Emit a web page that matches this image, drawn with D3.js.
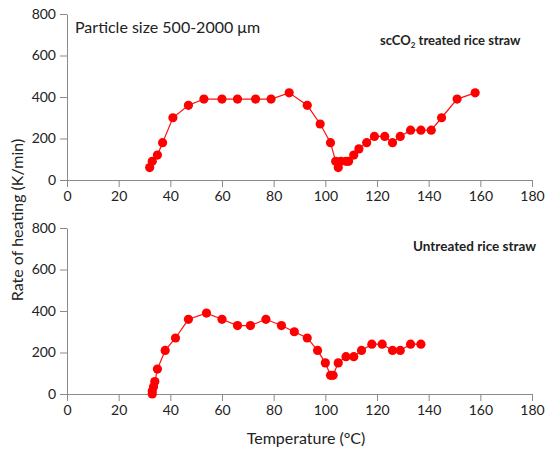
<!doctype html>
<html lang="en">
<head>
    <meta charset="UTF-8">
    <title>Rate of heating</title>
    <style>
        body { margin: 0; background: #fff; }
        svg text { font-family: Lato, "Open Sans", sans-serif; fill: #222; }
    </style>
</head>
<body>

<div class="canvas">
    <svg width="550" height="462"></svg>
</div>

<script src="https://d3js.org/d3.v7.min.js"></script>
<script>
    // scCO2 treated rice straw
    const treatedTemp = [32, 33, 35, 37, 41, 47, 53, 60, 66, 73, 79, 86, 93, 98, 102, 104, 105, 106, 108, 109, 111, 113, 116, 119, 123, 126, 129, 133, 137, 141, 145, 151, 158];
    const treatedRate = [60, 90, 120, 180, 300, 360, 390, 390, 390, 390, 390, 420, 360, 270, 180, 90, 60, 90, 90, 90, 120, 150, 180, 210, 210, 180, 210, 240, 240, 240, 300, 390, 420];

    // untreated rice straw
    const untreatedTemp = [33, 33, 33.5, 34, 35, 38, 42, 47, 54, 60, 66, 71, 77, 83, 88, 93, 97, 100, 102, 103, 105, 108, 111, 114, 118, 122, 126, 129, 133, 137];
    const untreatedRate = [0, 15, 35, 60, 120, 210, 270, 360, 390, 360, 330, 330, 360, 330, 300, 270, 210, 150, 90, 90, 150, 180, 180, 210, 240, 240, 210, 210, 240, 240];

    const xTicks = [0, 20, 40, 60, 80, 100, 120, 140, 160, 180];
    const yTicks = [0, 200, 400, 600, 800];

    const svg = d3.select('.canvas svg');
    const left = 67, right = 532;

    const x = d3.scaleLinear().domain([0, 180]).range([left, right]);

    const panels = [
        { top: 14, bottom: 180, temp: treatedTemp, rate: treatedRate },
        { top: 228, bottom: 394, temp: untreatedTemp, rate: untreatedRate }
    ];

    const grey = '#8a8a8a';

    panels.forEach(p => {
        const y = d3.scaleLinear().domain([0, 800]).range([p.bottom, p.top]);
        const g = svg.append('g');

        // x axis
        const xa = g.append('g').attr('transform', `translate(0,${p.bottom})`);
        xa.call(d3.axisBottom(x).tickValues(d3.range(10, 180, 20)).tickSize(4).tickFormat(''));
        xa.call(d3.axisBottom(x).tickValues(xTicks).tickSize(7).tickSizeOuter(0).tickPadding(4));
        xa.selectAll('path, line').attr('stroke', grey);
        xa.selectAll('text').style('font-size', '14px').attr('fill', '#222');

        // y axis
        const ya = g.append('g').attr('transform', `translate(${left},0)`);
        ya.call(d3.axisLeft(y).tickValues(d3.range(100, 800, 200)).tickSize(4).tickFormat(''));
        ya.call(d3.axisLeft(y).tickValues(yTicks).tickSize(7).tickSizeOuter(0).tickPadding(4));
        ya.selectAll('path, line').attr('stroke', grey);
        ya.selectAll('text').style('font-size', '14px').attr('fill', '#222');

        const pts = p.temp.map((t, i) => [t, p.rate[i]]);

        g.append('path')
            .datum(pts)
            .attr('fill', 'none')
            .attr('stroke', '#ff1010')
            .attr('stroke-width', 1.2)
            .attr('d', d3.line().x(d => x(d[0])).y(d => y(d[1])));

        g.selectAll('circle')
            .data(pts)
            .enter()
            .append('circle')
            .attr('cx', d => x(d[0]))
            .attr('cy', d => y(d[1]))
            .attr('r', 4.6)
            .attr('fill', '#ff0000');
    });

    // annotations
    svg.append('text')
        .attr('x', 75).attr('y', 33)
        .style('font-size', '16px')
        .text('Particle size 500-2000 μm');

    const t1 = svg.append('text')
        .attr('x', 380).attr('y', 45)
        .style('font-size', '13px')
        .style('font-weight', 'bold');
    t1.append('tspan').text('scCO');
    t1.append('tspan').attr('dy', 3).style('font-size', '8px').text('2');
    t1.append('tspan').attr('dy', -3).text(' treated rice straw');

    svg.append('text')
        .attr('x', 413).attr('y', 251)
        .style('font-size', '13.5px')
        .style('font-weight', 'bold')
        .text('Untreated rice straw');

    svg.append('text')
        .attr('x', 306).attr('y', 444)
        .attr('text-anchor', 'middle')
        .style('font-size', '16px')
        .text('Temperature (°C)');

    svg.append('text')
        .attr('transform', 'translate(23,220) rotate(-90)')
        .attr('text-anchor', 'middle')
        .style('font-size', '16px')
        .text('Rate of heating (K/min)');
</script>
</body>
</html>
